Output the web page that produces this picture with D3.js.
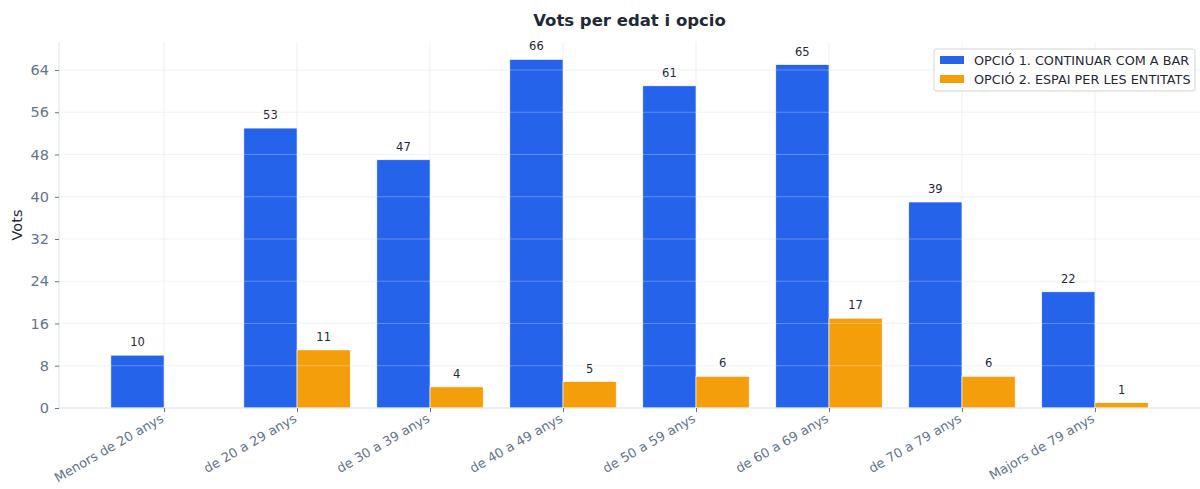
<!DOCTYPE html>
<html>
<head>
<meta charset="utf-8">
<script src="https://cdn.jsdelivr.net/npm/d3@7"></script>
<style>
  body { margin: 0; background: #fff; }
  text { font-family: "DejaVu Sans", sans-serif; }
</style>
</head>
<body>
<svg id="chart" width="1200" height="489"></svg>
<script>
// chart data
const categories = ["Menors de 20 anys", "de 20 a 29 anys", "de 30 a 39 anys", "de 40 a 49 anys",
  "de 50 a 59 anys", "de 60 a 69 anys", "de 70 a 79 anys", "Majors de 79 anys"];
const seriesNames = ["OPCIÓ 1. CONTINUAR COM A BAR", "OPCIÓ 2. ESPAI PER LES ENTITATS"];
const opcio1 = [10, 53, 47, 66, 61, 65, 39, 22];
const opcio2 = [0, 11, 4, 5, 6, 17, 6, 1];
const yTicks = [0, 8, 16, 24, 32, 40, 48, 56, 64];
const colors = ["#2563eb", "#f59e0b"];

const svg = d3.select("#chart");
const margin = { left: 59, right: 0, top: 42, bottom: 81 };
const W = 1200, H = 489;
const barW = 0.4;

// matplotlib-like margins around the bars
const x = d3.scaleLinear()
  .domain([-0.79, categories.length - 1 + 0.79])
  .range([margin.left, W - margin.right]);
const y = d3.scaleLinear()
  .domain([0, d3.max(opcio1.concat(opcio2)) * 1.05])
  .range([H - margin.bottom, margin.top]);

// grid
svg.append("g").selectAll("line")
  .data(yTicks).join("line")
  .attr("x1", x.range()[0]).attr("x2", x.range()[1])
  .attr("y1", d => y(d)).attr("y2", d => y(d))
  .attr("stroke", "#e8ebf0").attr("stroke-width", 0.8);
svg.append("g").selectAll("line")
  .data(categories).join("line")
  .attr("x1", (d, i) => x(i)).attr("x2", (d, i) => x(i))
  .attr("y1", y.range()[0]).attr("y2", y.range()[1])
  .attr("stroke", "#e8ebf0").attr("stroke-width", 0.8);

// bars
const series = [opcio1, opcio2];
series.forEach((vals, s) => {
  const offset = s === 0 ? -barW / 2 : barW / 2;
  const pts = vals.map((v, i) => ({ v, i }));
  svg.append("g").selectAll("rect")
    .data(pts).join("rect")
    .attr("x", d => x(d.i + offset - barW / 2))
    .attr("width", x(barW) - x(0))
    .attr("y", d => y(d.v))
    .attr("height", d => y(0) - y(d.v))
    .attr("fill", colors[s])
    .attr("stroke", "#fff").attr("stroke-width", 0.6);

  svg.append("g").selectAll("text")
    .data(pts.filter(d => d.v > 0)).join("text")
    .attr("x", d => x(d.i + offset))
    .attr("y", d => y(d.v) - 9)
    .attr("text-anchor", "middle")
    .attr("font-size", 11.5)
    .attr("fill", "#1f2937")
    .text(d => d.v);
});

// gridlines drawn over bars look lighter in the reference
svg.append("g").selectAll("line")
  .data(yTicks.filter(d => d > 0)).join("line")
  .attr("x1", x.range()[0]).attr("x2", x.range()[1])
  .attr("y1", d => y(d)).attr("y2", d => y(d))
  .attr("stroke", "#ffffff").attr("stroke-opacity", 0.35).attr("stroke-width", 0.8);

// axes
const yAxis = svg.append("g")
  .attr("transform", `translate(${margin.left},0)`)
  .call(d3.axisLeft(y).tickValues(yTicks).tickSize(4).tickPadding(6));
const xAxis = svg.append("g")
  .attr("transform", `translate(0,${H - margin.bottom})`)
  .call(d3.axisBottom(x).tickValues(d3.range(categories.length)).tickSize(4)
    .tickFormat(i => categories[i]));

[yAxis, xAxis].forEach(a => {
  a.select(".domain").attr("stroke", "#e2e8f0").attr("stroke-width", 1.2);
  a.selectAll(".tick line").attr("stroke", "#64748b");
  a.selectAll(".tick text").attr("fill", "#64748b")
    .style("font-family", "DejaVu Sans").attr("font-size", 14.5);
});
// make the spine span whole plot
yAxis.select(".domain").attr("d", `M0,${y.range()[0]}V${y.range()[1]}`);
xAxis.select(".domain").attr("d", `M${x.range()[0]},0H${x.range()[1]}`);

xAxis.selectAll(".tick text")
  .attr("font-size", 13)
  .attr("text-anchor", "end")
  .attr("dy", null)
  .attr("y", 0)
  .attr("transform", "translate(0,13) rotate(-30)");

// axis title
svg.append("text")
  .attr("transform", `translate(22,${(y.range()[0] + y.range()[1]) / 2}) rotate(-90)`)
  .attr("text-anchor", "middle")
  .attr("font-size", 14.5)
  .attr("fill", "#1f2937")
  .text("Vots");

// title
svg.append("text")
  .attr("x", (x.range()[0] + x.range()[1]) / 2)
  .attr("y", 26)
  .attr("text-anchor", "middle")
  .attr("font-size", 16.5)
  .attr("font-weight", "bold")
  .attr("fill", "#1f2937")
  .text("Vots per edat i opcio");

// legend
const lg = svg.append("g").attr("transform", "translate(934,49)");
lg.append("rect")
  .attr("width", 261).attr("height", 42).attr("rx", 2)
  .attr("fill", "#fff").attr("fill-opacity", 0.85)
  .attr("stroke", "#d4d4d4");
seriesNames.forEach((name, i) => {
  lg.append("rect")
    .attr("x", 6).attr("y", 7 + i * 19)
    .attr("width", 24).attr("height", 8)
    .attr("fill", colors[i]);
  lg.append("text")
    .attr("x", 40).attr("y", 15.5 + i * 19)
    .attr("font-size", 12.8)
    .attr("fill", "#1f2937")
    .text(name);
});
</script>
</body>
</html>
